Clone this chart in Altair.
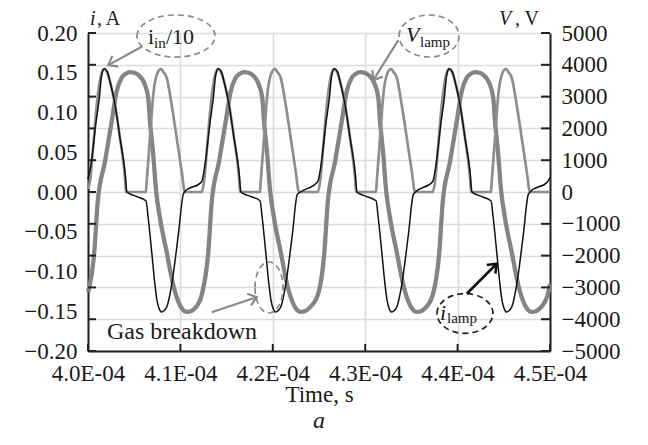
import altair as alt
import pandas as pd

# ---- data (time in microseconds; axis shows seconds as x.xE-04) ----
t_lamp = [400.00, 400.32, 400.86, 401.22, 401.48, 401.76, 402.11, 402.38, 402.92, 403.46, 404.00, 404.22,
          404.87, 406.27, 406.52, 406.89, 407.25, 407.46, 407.71, 407.97, 408.25, 408.51, 409.05, 409.77, 410.31,
          410.44, 412.30, 412.66, 413.20, 413.56, 413.82, 414.10, 414.45, 414.72, 415.26, 415.80, 416.34, 416.56,
          417.21, 418.61, 418.86, 419.23, 419.59, 419.80, 420.05, 420.31, 420.59, 420.85, 421.39, 422.11, 422.65,
          423.00, 424.86, 425.22, 425.76, 426.12, 426.38, 426.66, 427.01, 427.28, 427.82, 428.36, 428.90, 429.12,
          429.77, 431.17, 431.42, 431.79, 432.15, 432.36, 432.61, 432.87, 433.15, 433.41, 433.95, 434.67, 435.21,
          435.44, 437.30, 437.66, 438.20, 438.56, 438.82, 439.10, 439.45, 439.72, 440.26, 440.80, 441.34, 441.56,
          442.21, 443.61, 443.86, 444.23, 444.59, 444.80, 445.05, 445.31, 445.59, 445.85, 446.39, 447.11, 447.65,
          447.85, 449.74, 450.00]
i_lamp = [0.016, 0.034, 0.087, 0.118, 0.147, 0.155, 0.151, 0.139, 0.110, 0.068, 0.026, 0.000,
          -0.004, -0.011, -0.033, -0.075, -0.117, -0.136, -0.147, -0.151, -0.149, -0.145, -0.117, -0.054, -0.003,
          0.000, 0.013, 0.034, 0.087, 0.118, 0.147, 0.155, 0.151, 0.139, 0.110, 0.068, 0.026, 0.000,
          -0.004, -0.011, -0.033, -0.075, -0.117, -0.136, -0.147, -0.151, -0.149, -0.145, -0.117, -0.054, -0.003,
          0.000, 0.013, 0.034, 0.087, 0.118, 0.147, 0.155, 0.151, 0.139, 0.110, 0.068, 0.026, 0.000,
          -0.004, -0.011, -0.033, -0.075, -0.117, -0.136, -0.147, -0.151, -0.149, -0.145, -0.117, -0.054, -0.003,
          0.000, 0.013, 0.034, 0.087, 0.118, 0.147, 0.155, 0.151, 0.139, 0.110, 0.068, 0.026, 0.000,
          -0.004, -0.011, -0.033, -0.075, -0.117, -0.136, -0.147, -0.151, -0.149, -0.145, -0.117, -0.054, -0.003,
          0.000, 0.013, 0.018]

t_in = [400.00, 400.24, 400.57, 400.89, 401.22, 401.49, 401.76, 402.03, 402.38, 402.92, 403.46, 404.00, 404.11,
        406.27, 406.35, 406.71, 407.06, 407.43, 407.90, 408.15, 408.51, 409.05, 409.60, 410.14, 410.49,
        412.31, 412.58, 412.91, 413.23, 413.56, 413.83, 414.10, 414.37, 414.72, 415.26, 415.80, 416.34, 416.45,
        418.61, 418.69, 419.05, 419.40, 419.77, 420.24, 420.49, 420.85, 421.39, 421.94, 422.48, 422.83,
        424.87, 425.14, 425.47, 425.79, 426.12, 426.39, 426.66, 426.93, 427.28, 427.82, 428.36, 428.90, 429.01,
        431.17, 431.25, 431.61, 431.96, 432.33, 432.80, 433.05, 433.41, 433.95, 434.50, 435.04, 435.39,
        437.31, 437.58, 437.91, 438.23, 438.56, 438.83, 439.10, 439.37, 439.72, 440.26, 440.80, 441.34, 441.45,
        443.61, 443.69, 444.05, 444.40, 444.77, 445.24, 445.49, 445.85, 446.39, 446.94, 447.48, 447.83,
        450.00]
i_in10 = [0.004, 0.015, 0.059, 0.103, 0.135, 0.150, 0.155, 0.151, 0.139, 0.110, 0.068, 0.018, 0.000,
          0.000, 0.013, 0.068, 0.122, 0.147, 0.155, 0.151, 0.144, 0.110, 0.068, 0.026, 0.000,
          0.000, 0.015, 0.059, 0.103, 0.135, 0.150, 0.155, 0.151, 0.139, 0.110, 0.068, 0.018, 0.000,
          0.000, 0.013, 0.068, 0.122, 0.147, 0.155, 0.151, 0.144, 0.110, 0.068, 0.026, 0.000,
          0.000, 0.015, 0.059, 0.103, 0.135, 0.150, 0.155, 0.151, 0.139, 0.110, 0.068, 0.018, 0.000,
          0.000, 0.013, 0.068, 0.122, 0.147, 0.155, 0.151, 0.144, 0.110, 0.068, 0.026, 0.000,
          0.000, 0.015, 0.059, 0.103, 0.135, 0.150, 0.155, 0.151, 0.139, 0.110, 0.068, 0.018, 0.000,
          0.000, 0.013, 0.068, 0.122, 0.147, 0.155, 0.151, 0.144, 0.110, 0.068, 0.026, 0.000,
          0.000]

t_v = [400.00, 400.68, 401.05, 401.84, 402.56, 403.10, 403.64, 404.09, 404.54, 405.01, 405.44, 406.16,
       406.52, 406.71, 407.06, 407.36, 407.79, 408.51, 409.23, 409.95, 410.31, 410.68, 411.12, 411.58,
       412.30, 413.02, 413.39, 414.18, 414.90, 415.44, 415.98, 416.43, 416.88, 417.35, 417.78, 418.50,
       418.86, 419.05, 419.40, 419.70, 420.13, 420.85, 421.57, 422.29, 422.65, 423.02, 423.46, 423.92,
       424.86, 425.58, 425.95, 426.74, 427.46, 428.00, 428.54, 428.99, 429.44, 429.91, 430.34, 431.06,
       431.42, 431.61, 431.96, 432.26, 432.69, 433.41, 434.13, 434.85, 435.21, 435.58, 436.02, 436.48,
       437.30, 438.02, 438.39, 439.18, 439.90, 440.44, 440.98, 441.43, 441.88, 442.35, 442.78, 443.50,
       443.86, 444.05, 444.40, 444.70, 445.13, 445.85, 446.57, 447.29, 447.65, 448.02, 448.46, 448.92,
       449.74, 450.00]
v_lamp = [-3150, -1890, -315, 955, 2214, 3159, 3591, 3717, 3770, 3749, 3686, 3371,
          2952, 2214, 1166, 63, -819, -1881, -2930, -3560, -3717, -3771, -3749, -3654,
          -3245, -1890, -315, 955, 2214, 3159, 3591, 3717, 3770, 3749, 3686, 3371,
          2952, 2214, 1166, 63, -819, -1881, -2930, -3560, -3717, -3771, -3749, -3654,
          -3245, -1890, -315, 955, 2214, 3159, 3591, 3717, 3770, 3749, 3686, 3371,
          2952, 2214, 1166, 63, -819, -1881, -2930, -3560, -3717, -3771, -3749, -3654,
          -3245, -1890, -315, 955, 2214, 3159, 3591, 3717, 3770, 3749, 3686, 3371,
          2952, 2214, 1166, 63, -819, -1881, -2930, -3560, -3717, -3771, -3749, -3654,
          -3245, -2900]

x_ticks = [400, 410, 420, 430, 440, 450]
i_labels = [-0.20, -0.15, -0.10, -0.05, 0.00, 0.05, 0.10, 0.15, 0.20]
i_ticks = [-0.20, -0.16, -0.12, -0.08, -0.04, 0.00, 0.04, 0.08, 0.12, 0.16, 0.20]
v_ticks = [-5000, -4000, -3000, -2000, -1000, 0, 1000, 2000, 3000, 4000, 5000]

# annotations (in data units)
ell_t = [409.52, 436.91, 440.80, 419.59]
ell_i = [0.1962, 0.1962, -0.1528, -0.1201]
ell_shape = ["M -1 0 A 1 0.54 0 1 1 1 0 A 1 0.54 0 1 1 -1 0 Z",
             "M -1 0 A 1 0.70 0 1 1 1 0 A 1 0.70 0 1 1 -1 0 Z",
             "M -1 0 A 1 0.71 0 1 1 1 0 A 1 0.71 0 1 1 -1 0 Z",
             "M -0.55 0 A 0.55 1 0 1 1 0.55 0 A 0.55 1 0 1 1 -0.55 0 Z"]
ell_size = [6084, 3600, 3136, 2601]
ell_col = ["#8a8a8a", "#8a8a8a", "#222222", "#8a8a8a"]

arr_t = [405.81, 433.58, 440.99, 413.39]
arr_i = [0.1827, 0.1911, -0.1280, -0.1512]
arr_t2 = [402.20, 430.88, 444.23, 418.26]
arr_i2 = [0.1596, 0.1407, -0.0902, -0.1323]
arr_ang = [241, 212, 45, 72]
arr_col = ["#8a8a8a", "#8a8a8a", "#111111", "#8a8a8a"]
arr_w = [2.2, 2.2, 2.6, 2.2]

txt = ["i", "in", "/10", "lamp", "lamp", "Gas breakdown", ", A", ", V"]
txt_t = [406.49, 407.14, 408.44, 435.93, 438.85, 402.06, 400.97, 446.21]
txt_i = [0.1953, 0.1874, 0.1949, 0.1886, -0.1591, -0.1764, 0.2175, 0.2175]
txt_size = [22, 15, 22, 15, 15, 24, 20, 20]

itxt = ["i", "V", "V", "i"]
itxt_t = [400.22, 444.48, 434.42, 438.10]
itxt_i = [0.2170, 0.2175, 0.1974, -0.1516]
itxt_size = [20, 20, 22, 22]

W, H = 462, 318
AX = "#222222"
GRID = "#dcdcdc"
FONTSPEC = "Liberation Serif, Times New Roman, serif"

xs = alt.Scale(domain=[400, 450], nice=False, zero=False)
is_ = alt.Scale(domain=[-0.2, 0.2], nice=False, zero=False)
vs = alt.Scale(domain=[-5000, 5000], nice=False, zero=False)

x_axis = alt.Axis(values=x_ticks, labelExpr="format(datum.value / 100, '.1f') + 'E-04'",
                  title="Time, s", grid=True, gridColor=GRID, gridWidth=1.6, ticks=False,
                  domainColor=AX, domainWidth=2, labelFont=FONTSPEC, labelFontSize=23,
                  labelColor="#1a1a1a", labelPadding=11, labelOverlap=False, labelFlush=False,
                  titleFont=FONTSPEC, titleFontSize=23,
                  titleFontWeight="normal", titleColor="#1a1a1a", titlePadding=-2)
yi_axis = alt.Axis(values=i_labels, format=".2f", title=None, grid=False, ticks=False,
                   domainColor=AX, domainWidth=2, labelFont=FONTSPEC, labelFontSize=23,
                   labelColor="#1a1a1a", labelPadding=11, labelOverlap=False, orient="left")
yv_axis = alt.Axis(values=v_ticks, format="d", title=None, grid=True, gridColor=GRID,
                   gridWidth=1.6, ticks=False, domainColor=AX, domainWidth=2, labelFont=FONTSPEC,
                   labelFontSize=23, labelColor="#1a1a1a", labelPadding=11, labelOverlap=False,
                   orient="right")

x_enc = alt.X("t:Q", scale=xs, axis=x_axis)
yi_enc = alt.Y("i:Q", scale=is_, axis=yi_axis)
yv_enc = alt.Y("v:Q", scale=vs, axis=yv_axis)

v_df = pd.DataFrame({"t": t_v, "v": v_lamp})
in_df = pd.DataFrame({"t": t_in, "i": i_in10})
lamp_df = pd.DataFrame({"t": t_lamp, "i": i_lamp})

v_line = alt.Chart(v_df).mark_line(color="#848484", strokeWidth=4.3, interpolate="monotone").encode(x=x_enc, y=yv_enc)
v_tick = alt.Chart(pd.DataFrame({"v": v_ticks})).mark_rule(color=AX, strokeWidth=2).encode(
    x=alt.value(W - 9), x2=alt.value(W), y=yv_enc)

in_line = alt.Chart(in_df).mark_line(color="#8e8e8e", strokeWidth=2.7, interpolate="monotone").encode(x=x_enc, y=yi_enc)
lamp_line = alt.Chart(lamp_df).mark_line(color="#111111", strokeWidth=1.5, interpolate="monotone").encode(x=x_enc, y=yi_enc)
i_tick = alt.Chart(pd.DataFrame({"i": i_ticks})).mark_rule(color=AX, strokeWidth=2).encode(
    x=alt.value(0), x2=alt.value(8), y=yi_enc)
x_tick = alt.Chart(pd.DataFrame({"t": x_ticks})).mark_rule(color=AX, strokeWidth=2).encode(
    x=x_enc, y=alt.value(H), y2=alt.value(H - 7))

ell_df = pd.DataFrame({"t": ell_t, "i": ell_i, "shape": ell_shape, "size": ell_size, "col": ell_col})
ellipses = alt.Chart(ell_df).mark_point(filled=False, strokeWidth=1.7, strokeDash=[6, 4], opacity=1).encode(
    x=x_enc, y=yi_enc, shape=alt.Shape("shape:N", scale=None), size=alt.Size("size:Q", scale=None),
    color=alt.Color("col:N", scale=None))

arr_df = pd.DataFrame({"t": arr_t, "i": arr_i, "t2": arr_t2, "i2": arr_i2, "ang": arr_ang,
                       "col": arr_col, "w": arr_w})
arr_lines = alt.Chart(arr_df).mark_rule().encode(
    x=x_enc, y=yi_enc, x2="t2:Q", y2="i2:Q", color=alt.Color("col:N", scale=None),
    strokeWidth=alt.StrokeWidth("w:Q", scale=None))
arr_heads = alt.Chart(arr_df).mark_point(filled=False, shape="M -1 1.3 L 0 0 L 1 1.3", size=150, opacity=1).encode(
    x=alt.X("t2:Q", scale=xs, axis=x_axis), y=alt.Y("i2:Q", scale=is_, axis=yi_axis),
    angle=alt.Angle("ang:Q", scale=None), color=alt.Color("col:N", scale=None),
    strokeWidth=alt.StrokeWidth("w:Q", scale=None))

txt_df = pd.DataFrame({"t": txt_t, "i": txt_i, "txt": txt, "size": txt_size})
texts = alt.Chart(txt_df).mark_text(font=FONTSPEC, align="left", baseline="middle", color="#1a1a1a").encode(
    x=x_enc, y=yi_enc, text="txt:N", size=alt.Size("size:Q", scale=None))
itxt_df = pd.DataFrame({"t": itxt_t, "i": itxt_i, "txt": itxt, "size": itxt_size})
itexts = alt.Chart(itxt_df).mark_text(font=FONTSPEC, fontStyle="italic", align="left", baseline="middle",
                                      color="#1a1a1a").encode(
    x=x_enc, y=yi_enc, text="txt:N", size=alt.Size("size:Q", scale=None))

v_group = alt.layer(v_line, v_tick)
i_group = alt.layer(in_line, lamp_line, i_tick, x_tick, ellipses, arr_lines, arr_heads, texts, itexts)

chart = alt.layer(v_group, i_group).resolve_scale(y="independent").properties(
    width=W, height=H,
    autosize=alt.AutoSizeParams(type="none"),
    padding={"left": 80, "top": 25, "right": 90, "bottom": 94},
    title=alt.TitleParams(text="a", orient="bottom", font=FONTSPEC, fontStyle="italic", fontSize=24,
                          fontWeight="normal", color="#1a1a1a", offset=3),
).configure(font=FONTSPEC).configure_view(stroke=None)

chart.save("out.html", embed_options={"renderer": "svg", "actions": False})
